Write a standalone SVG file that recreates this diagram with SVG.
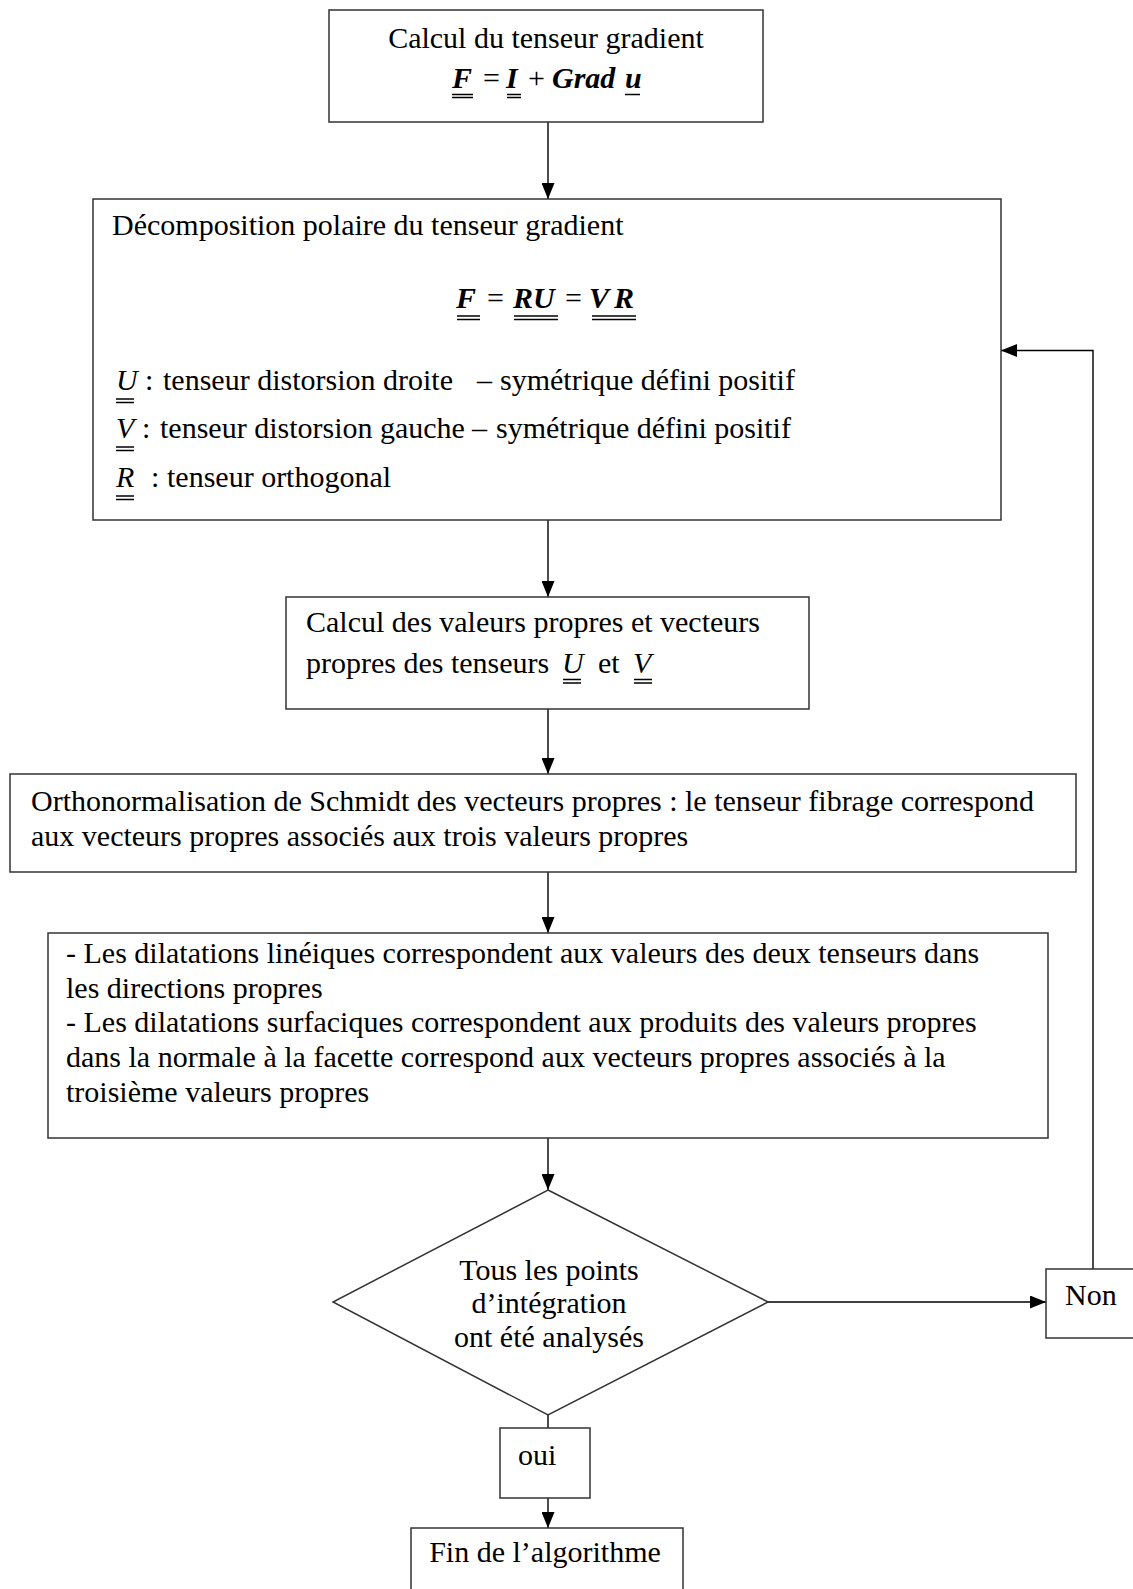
<svg xmlns="http://www.w3.org/2000/svg" width="1133" height="1589" viewBox="0 0 1133 1589">
<style>
  .box { fill: #ffffff; stroke: #333333; stroke-width: 1.5; }
  .t { font-family: "Liberation Serif", "Times New Roman", serif; font-size: 30px; fill: #000000; }
  .m { font-family: "Liberation Serif", "Times New Roman", serif; font-size: 30px; font-style: italic; font-weight: bold; fill: #000000; }
  .mi { font-family: "Liberation Serif", "Times New Roman", serif; font-size: 30px; font-style: italic; fill: #000000; }
  .ul { stroke: #000000; stroke-width: 1.3; fill: none; }
  .conn { stroke: #000000; stroke-width: 1.4; fill: none; }
</style>
<defs>
  <marker id="arr" viewBox="0 0 16 13" markerUnits="userSpaceOnUse" markerWidth="16" markerHeight="13" refX="16" refY="6.5" orient="auto">
    <path d="M0,0 L16,6.5 L0,13 z" fill="#000000"/>
  </marker>
</defs>
<rect width="1133" height="1589" fill="#ffffff"/>

<g id="connectors">
  <line class="conn" x1="548" y1="122" x2="548" y2="199" marker-end="url(#arr)"/>
  <line class="conn" x1="548" y1="520" x2="548" y2="597" marker-end="url(#arr)"/>
  <line class="conn" x1="548" y1="709" x2="548" y2="774" marker-end="url(#arr)"/>
  <line class="conn" x1="548" y1="872" x2="548" y2="933" marker-end="url(#arr)"/>
  <line class="conn" x1="548" y1="1138" x2="548" y2="1190" marker-end="url(#arr)"/>
  <line class="conn" x1="548" y1="1415" x2="548" y2="1428"/>
  <line class="conn" x1="548" y1="1498" x2="548" y2="1528" marker-end="url(#arr)"/>
  <line class="conn" x1="768" y1="1302" x2="1046" y2="1302" marker-end="url(#arr)"/>
  <polyline class="conn" points="1093,1269 1093,350.5 1001,350.5" marker-end="url(#arr)"/>
</g>

<g id="n1">
  <rect class="box" x="329" y="10" width="434" height="112"/>
  <text class="t" x="546" y="48" text-anchor="middle">Calcul du tenseur gradient</text>
  <text class="m" x="452" y="88">F</text>
  <text class="t" x="483" y="88">=</text>
  <text class="m" x="506" y="88">I</text>
  <text class="t" x="528" y="88">+</text>
  <text class="m" x="552" y="88">Grad</text>
  <text class="m" x="625" y="88">u</text>
  <path class="ul" d="M452,94.5 H473 M452,97.5 H473 M507,94.5 H521 M507,97.5 H521 M625,94.5 H640"/>
</g>

<g id="n2">
  <rect class="box" x="93" y="199" width="908" height="321"/>
  <text class="t" x="112" y="235">Décomposition polaire du tenseur gradient</text>
  <text class="m" x="456" y="308">F</text>
  <text class="t" x="487" y="308">=</text>
  <text class="m" x="513" y="308">RU</text>
  <text class="t" x="565" y="308">=</text>
  <text class="m" x="589" y="308">V</text>
  <text class="m" x="614" y="308">R</text>
  <path class="ul" d="M457,316 H480 M457,319.5 H480 M514,316 H558 M514,319.5 H558 M592,316 H636 M592,319.5 H636"/>
  <text class="mi" x="116" y="390">U</text>
  <text class="t" x="145" y="390">:</text>
  <text class="t" x="163" y="390">tenseur distorsion droite</text>
  <text class="t" x="477" y="390">–</text>
  <text class="t" x="500" y="390">symétrique défini positif</text>
  <text class="mi" x="116" y="438">V</text>
  <text class="t" x="142" y="438">:</text>
  <text class="t" x="160" y="438">tenseur distorsion gauche</text>
  <text class="t" x="472" y="438">–</text>
  <text class="t" x="496" y="438">symétrique défini positif</text>
  <text class="mi" x="116" y="487">R</text>
  <text class="t" x="151" y="487">:</text>
  <text class="t" x="167" y="487">tenseur orthogonal</text>
  <path class="ul" d="M116,399 H134 M116,402.5 H134 M116,447 H134 M116,450.5 H134 M116,496 H134 M116,499.5 H134"/>
</g>

<g id="n3">
  <rect class="box" x="286" y="597" width="523" height="112"/>
  <text class="t" x="306" y="632">Calcul des valeurs propres et vecteurs</text>
  <text class="t" x="306" y="673">propres des tenseurs</text>
  <text class="mi" x="562" y="673">U</text>
  <text class="t" x="598" y="673">et</text>
  <text class="mi" x="633" y="673">V</text>
  <path class="ul" d="M563,679.5 H581 M563,683 H581 M634,679.5 H652 M634,683 H652"/>
</g>

<g id="n4">
  <rect class="box" x="10" y="774" width="1066" height="98"/>
  <text class="t" x="31" y="811">Orthonormalisation de Schmidt des vecteurs propres : le tenseur fibrage correspond</text>
  <text class="t" x="31" y="846">aux vecteurs propres associés aux trois valeurs propres</text>
</g>

<g id="n5">
  <rect class="box" x="48" y="933" width="1000" height="205"/>
  <text class="t" x="66" y="963">- Les dilatations linéiques correspondent aux valeurs des deux tenseurs dans</text>
  <text class="t" x="66" y="998">les directions propres</text>
  <text class="t" x="66" y="1032">- Les dilatations surfaciques correspondent aux produits des valeurs propres</text>
  <text class="t" x="66" y="1067">dans la normale à la facette correspond aux vecteurs propres associés à la</text>
  <text class="t" x="66" y="1102">troisième valeurs propres</text>
</g>

<g id="n6">
  <polygon class="box" points="548,1190 768,1302 548,1415 333,1302"/>
  <text class="t" x="549" y="1280" text-anchor="middle">Tous les points</text>
  <text class="t" x="549" y="1313" text-anchor="middle">d’intégration</text>
  <text class="t" x="549" y="1347" text-anchor="middle">ont été analysés</text>
</g>

<g id="n7">
  <rect class="box" x="1046" y="1269" width="100" height="69"/>
  <text class="t" x="1065" y="1305">Non</text>
</g>

<g id="n8">
  <rect class="box" x="500" y="1428" width="90" height="70"/>
  <text class="t" x="518" y="1465">oui</text>
</g>

<g id="n9">
  <rect class="box" x="411" y="1528" width="272" height="80"/>
  <text class="t" x="545" y="1562" text-anchor="middle">Fin de l’algorithme</text>
</g>
</svg>
